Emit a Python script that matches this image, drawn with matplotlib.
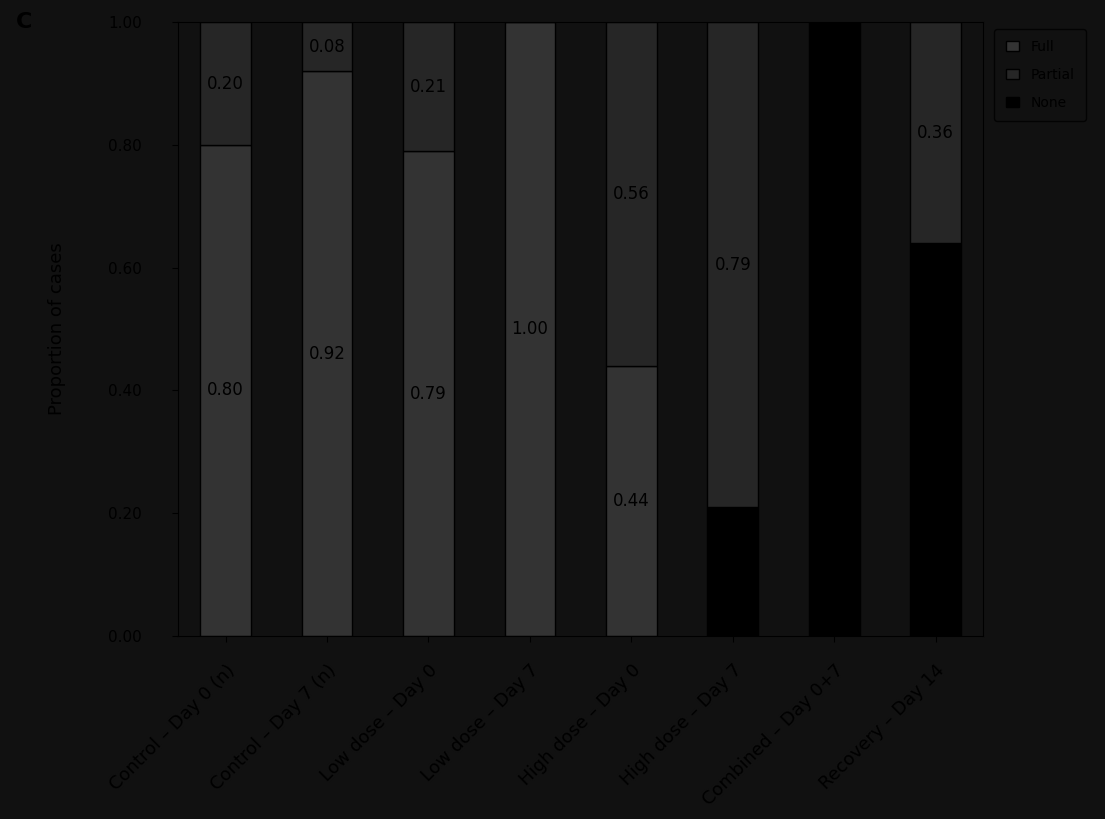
import numpy as np
import matplotlib.pyplot as plt

# Stacked proportions per group
groups = ['Control – Day 0 (n)', 'Control – Day 7 (n)', 'Low dose – Day 0', 'Low dose – Day 7',
          'High dose – Day 0', 'High dose – Day 7', 'Combined – Day 0+7', 'Recovery – Day 14']
cat_names = ['Full', 'Partial', 'None']
resp = [0.80, 0.92, 0.79, 1.00, 0.44, 0.00, 0.00, 0.00]
partial = [0.20, 0.08, 0.21, 0.00, 0.56, 0.79, 0.00, 0.36]
nonresp = [0.00, 0.00, 0.00, 0.00, 0.00, 0.21, 1.00, 0.64]
colors = ['#333333', '#262626', '#000000']

bg = '#111111'
fig = plt.figure(figsize=(11.05, 8.19), dpi=100, facecolor=bg)
ax = fig.add_axes([0.161, 0.2234, 0.729, 0.7496], facecolor=bg)

x = np.arange(len(groups))
# black at the bottom, then the lighter gray, then the darker gray on top
series = [(nonresp, colors[2], cat_names[2]),
          (resp, colors[0], cat_names[0]),
          (partial, colors[1], cat_names[1])]
bottom = np.zeros(len(groups))
handles = {}
for vals, col, name in series:
    vals = np.array(vals)
    bars = ax.bar(x, vals, 0.5, bottom=bottom, color=col, edgecolor='#000000',
                  linewidth=1, label=name)
    handles[name] = bars
    for xi, v, b in zip(x, vals, bottom):
        if v > 0:
            ax.text(xi, b + v / 2, f'{v:.2f}', ha='center', va='center',
                    fontsize=12, color='#000000')
    bottom += vals

ax.set_xlim(-0.47, 7.47)
ax.set_ylim(0, 1.0)
ax.set_yticks(np.arange(0, 1.01, 0.2))
ax.set_yticklabels([f'{t:.2f}' for t in np.arange(0, 1.01, 0.2)])
ax.set_xticks(x)
ax.set_xticklabels(groups, rotation=45, ha='right', rotation_mode='anchor')
ax.tick_params(colors='#000000', labelsize=11, length=4)
ax.tick_params(axis='x', labelsize=13, pad=14)
ax.tick_params(axis='y', pad=22)
ax.set_ylabel('Proportion of cases', fontsize=13, color='#000000', labelpad=30)
for s in ax.spines.values():
    s.set_color('#000000')

leg = ax.legend([handles[n] for n in cat_names], cat_names, loc='upper left',
                bbox_to_anchor=(1.005, 1.0), fontsize=10, frameon=True,
                handlelength=1.0, labelspacing=1.0, borderpad=0.8)
leg.get_frame().set_facecolor(bg)
leg.get_frame().set_edgecolor('#000000')
for t in leg.get_texts():
    t.set_color('#000000')

fig.text(0.014, 0.985, 'C', fontsize=16, fontweight='bold', color='#000000',
         ha='left', va='top')

fig.savefig('out.png', dpi=100, facecolor=bg)
